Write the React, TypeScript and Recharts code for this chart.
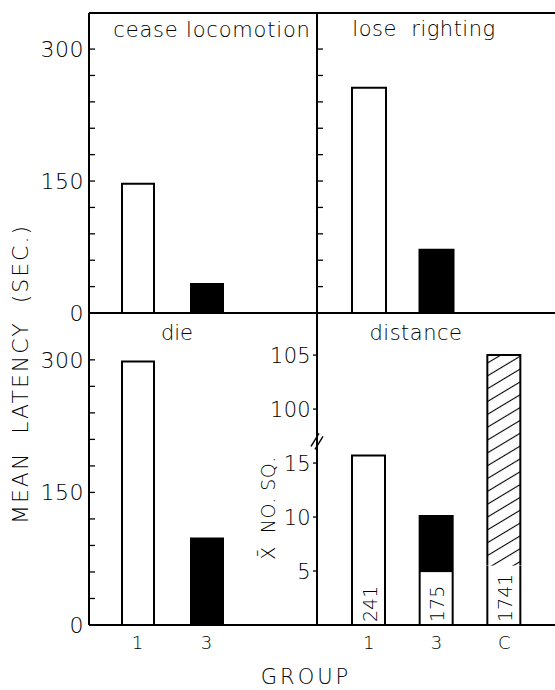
import React from "react";
import { BarChart, Bar, XAxis, YAxis, Cell, ReferenceLine, LabelList } from "recharts";

// ---- data ----
const latencyGroups = ["1", "3"];
const ceaseLocomotion = [147, 33];
const loseRighting = [256, 72];
const die = [298, 98];
const latencyTicks = [0, 30, 60, 90, 120, 150, 180, 210, 240, 270, 300];
const latencyLabels = [0, 150, 300];

const distanceGroups = ["1", "3", "C"];
const meanSquares = [15.7, 10.1, 105];
const whitePart = [15.7, 4.9, 5.5];
const squareCounts = ["241", "175", "1741"];
const distanceTicks = [5, 10, 15, 100, 105];
const breakAt = 17; // display position of the axis break

// ---- style ----
const FONT = "'DejaVu Sans', sans-serif";
const FW = 200;
const latencyFills = ["#ffffff", "#000000"];
const distanceFills = ["#ffffff", "#000000", "url(#hatch)"];
const AX = { stroke: "#000", strokeWidth: 2 };

const brk = (v: number) => (v >= 100 ? v - 80 : v);
const unbrk = (v: number) => (v >= 20 ? v + 80 : v);

const latencyData = (vals: number[]) => latencyGroups.map((g, i) => ({ group: g, value: vals[i] }));
const distanceData = distanceGroups.map((g, i) => ({
  group: g,
  low: whitePart[i],
  high: brk(meanSquares[i]) - whitePart[i],
  count: squareCounts[i],
}));

const makeLatencyTick = (labels: boolean) => (props: any) => {
  const { x, y, payload } = props;
  return (
    <g>
      <line x1={x} x2={x + 6} y1={y} y2={y} stroke="#000" strokeWidth={1.3} />
      {labels && latencyLabels.includes(payload.value) && (
        <text x={x - 5} y={y} dy="0.36em" textAnchor="end" fontSize={22} letterSpacing={0.5} fontFamily={FONT} fontWeight={FW} fill="#000">
          {payload.value}
        </text>
      )}
    </g>
  );
};

const DistanceTick = (props: any) => {
  const { x, y, payload } = props;
  if (payload.value === breakAt) {
    return (
      <g>
        <line x1={x - 6} y1={y + 5} x2={x + 2} y2={y - 8} stroke="#000" strokeWidth={1.4} />
        <line x1={x - 2} y1={y + 8} x2={x + 6} y2={y - 5} stroke="#000" strokeWidth={1.4} />
      </g>
    );
  }
  return (
    <g>
      <line x1={x - 4} x2={x} y1={y} y2={y} stroke="#000" strokeWidth={1.3} />
      <text x={x - 6} y={y} dy="0.36em" textAnchor="end" fontSize={21} letterSpacing={0.3} fontFamily={FONT} fontWeight={FW} fill="#000">
        {unbrk(payload.value)}
      </text>
    </g>
  );
};

const LowShape = (p: any) => {
  const { x, y, width, height, payload } = p;
  if (!(height > 0)) return null;
  const d = payload.high > 0
    ? `M${x},${y} V${y + height} H${x + width} V${y}`
    : `M${x},${y + height} V${y} H${x + width} V${y + height}`;
  return (
    <g>
      <rect x={x} y={y} width={width} height={height} fill="#fff" />
      <path d={d} fill="none" stroke="#000" strokeWidth={2} />
    </g>
  );
};

const HighShape = (p: any) => {
  const { x, y, width, height, payload } = p;
  if (!(height > 0)) return null;
  const fill = distanceFills[distanceGroups.indexOf(payload.group)];
  return (
    <g>
      <rect x={x} y={y} width={width} height={height} fill={fill} />
      <path d={`M${x},${y + height} V${y} H${x + width} V${y + height}`} fill="none" stroke="#000" strokeWidth={2} />
    </g>
  );
};

const CountLabel = (p: any) => {
  const { x, y, width, height, value } = p;
  const tx = x + width / 2 + 8;
  const ty = y + height - 3;
  return (
    <text transform={`translate(${tx},${ty}) rotate(-90)`} textAnchor="start" fontSize={19} fontFamily={FONT} fontWeight={FW} fill="#000">
      {value}
    </text>
  );
};

const catTick = { fontSize: 18, fontFamily: FONT, fontWeight: FW, fill: "#000" };

export default function App() {
  const abs = (left: number, top: number): React.CSSProperties => ({ position: "absolute", left, top });
  const txt = { fontFamily: FONT, fontWeight: FW, fill: "#000" } as any;
  return (
    <div style={{ position: "absolute", left: 0, top: 0, width: 555, height: 690, overflow: "hidden", background: "#fff" }}>
      <svg width={0} height={0} style={{ position: "absolute" }}>
        <defs>
          <pattern id="hatch" patternUnits="userSpaceOnUse" width={10} height={11} patternTransform="rotate(-31)">
            <rect x={0} y={0} width={10} height={11} fill="#fff" />
            <line x1={0} y1={5.5} x2={10} y2={5.5} stroke="#000" strokeWidth={1.1} />
          </pattern>
        </defs>
      </svg>

      {/* bottom-left: die */}
      <div style={abs(0, 300)}>
        <BarChart width={317} height={360} data={latencyData(die)} margin={{ top: 13, right: 0, bottom: 0, left: 0 }}>
          <XAxis dataKey="group" height={35} tick={catTick} tickSize={0} tickMargin={11} tickLine={false} axisLine={AX} padding={{ left: 14, right: 76 }} interval={0} />
          <YAxis width={89} type="number" domain={[0, 353]} ticks={latencyTicks} interval={0} tickSize={0} tickMargin={0} tickLine={false} axisLine={AX} tick={makeLatencyTick(true)} allowDataOverflow />
          <Bar dataKey="value" barSize={32} stroke="#000" strokeWidth={2} isAnimationActive={false}>
            {latencyGroups.map((g, i) => <Cell key={g} fill={latencyFills[i]} />)}
          </Bar>
        </BarChart>
      </div>

      {/* bottom-right: distance */}
      <div style={abs(240, 300)}>
        <BarChart width={315} height={360} data={distanceData} margin={{ top: 13, right: 0, bottom: 0, left: 0 }}>
          <XAxis dataKey="group" height={35} tick={catTick} tickSize={0} tickMargin={11} tickLine={false} axisLine={AX} padding={{ left: 18, right: 17 }} interval={0} />
          <YAxis width={77} type="number" domain={[0, 28.9]} ticks={[...distanceTicks.map(brk), breakAt].sort((a, b) => a - b)} interval={0} tickSize={0} tickMargin={0} tickLine={false} axisLine={AX} tick={DistanceTick} allowDataOverflow />
          <Bar dataKey="low" stackId="d" barSize={33} shape={LowShape} isAnimationActive={false}>
            <LabelList dataKey="count" content={CountLabel} />
          </Bar>
          <Bar dataKey="high" stackId="d" barSize={33} shape={HighShape} isAnimationActive={false} />
        </BarChart>
      </div>

      {/* top-left: cease locomotion */}
      <div style={abs(0, 0)}>
        <BarChart width={317} height={330} data={latencyData(ceaseLocomotion)} margin={{ top: 13, right: 0, bottom: 0, left: 0 }}>
          <XAxis dataKey="group" height={17} tick={false} tickLine={false} axisLine={AX} padding={{ left: 14, right: 76 }} />
          <YAxis width={89} type="number" domain={[0, 341]} ticks={latencyTicks} interval={0} tickSize={0} tickMargin={0} tickLine={false} axisLine={AX} tick={makeLatencyTick(true)} allowDataOverflow />
          <ReferenceLine y={341} stroke="#000" strokeWidth={2} />
          <Bar dataKey="value" barSize={32} stroke="#000" strokeWidth={2} isAnimationActive={false}>
            {latencyGroups.map((g, i) => <Cell key={g} fill={latencyFills[i]} />)}
          </Bar>
        </BarChart>
      </div>

      {/* top-right: lose righting */}
      <div style={abs(297, 0)}>
        <BarChart width={258} height={330} data={latencyData(loseRighting)} margin={{ top: 13, right: 0, bottom: 0, left: 0 }}>
          <XAxis dataKey="group" height={17} tick={false} tickLine={false} axisLine={AX} padding={{ left: 18, right: 85 }} />
          <YAxis width={20} type="number" domain={[0, 341]} ticks={latencyTicks} interval={0} tickSize={0} tickMargin={0} tickLine={false} axisLine={AX} tick={makeLatencyTick(false)} allowDataOverflow />
          <ReferenceLine y={341} stroke="#000" strokeWidth={2} />
          <Bar dataKey="value" barSize={34} stroke="#000" strokeWidth={2} isAnimationActive={false}>
            {latencyGroups.map((g, i) => <Cell key={g} fill={latencyFills[i]} />)}
          </Bar>
        </BarChart>
      </div>

      {/* titles and axis titles */}
      <svg width={555} height={690} style={{ position: "absolute", left: 0, top: 0, pointerEvents: "none" }}>
        <text x={212} y={37} textAnchor="middle" fontSize={21} letterSpacing={0.8} {...txt}>cease locomotion</text>
        <text x={424} y={36} textAnchor="middle" fontSize={21} letterSpacing={0.5} style={{ whiteSpace: "pre" }} {...txt}>lose  righting</text>
        <text x={177} y={340} textAnchor="middle" fontSize={21} {...txt}>die</text>
        <text x={416} y={340} textAnchor="middle" fontSize={21} letterSpacing={0.5} {...txt}>distance</text>
        <text x={306} y={684} textAnchor="middle" fontSize={21} letterSpacing={3} {...txt}>GROUP</text>
        <text transform="translate(28,374) rotate(-90)" textAnchor="middle" fontSize={22} letterSpacing={2} style={{ whiteSpace: "pre" }} {...txt}>MEAN  LATENCY  (SEC.)</text>
        <text transform="translate(275,508) rotate(-90)" textAnchor="middle" fontSize={19} letterSpacing={0.5} style={{ whiteSpace: "pre" }} {...txt}>{"X\u0304  NO. SQ."}</text>
      </svg>
    </div>
  );
}
